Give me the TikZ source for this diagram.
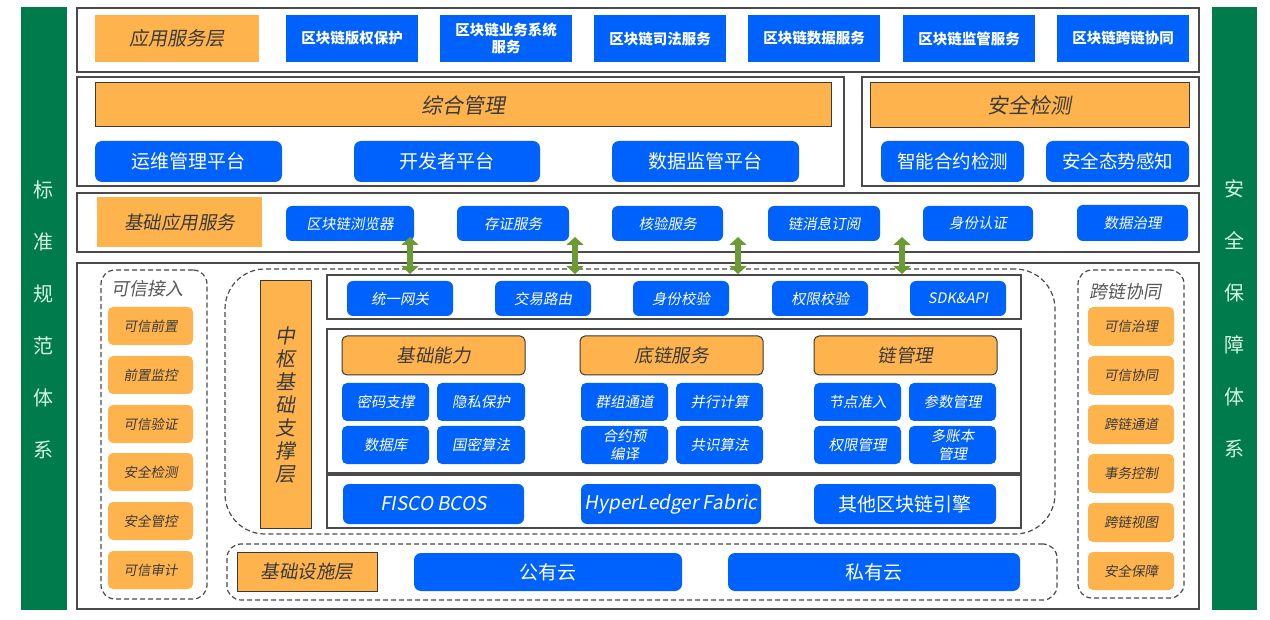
\documentclass[tikz,border=0pt]{standalone}
\usepackage{fontspec}
\setmainfont{Noto Sans CJK SC}
\newfontfamily\slf{Noto Sans CJK SC}[FakeSlant=0.18]
\usetikzlibrary{arrows.meta}
\definecolor{gbar}{HTML}{007B4C}
\definecolor{bl}{HTML}{0062FC}
\definecolor{og}{HTML}{FFB34D}
\definecolor{frm}{HTML}{4A4A4A}
\definecolor{tx}{HTML}{3A3A3A}
\definecolor{arr}{HTML}{6C9A34}
\definecolor{mint}{HTML}{D6F2E4}
\newcommand\fs[2]{\fontsize{#1}{#2}\selectfont}
\newcommand\bx[7]{\node[#6,minimum width={#4pt-#2pt},minimum height={#5pt-#3pt}] (#1) at ({(#2+#4)/2},{(#3+#5)/2}) {#7};}
\tikzset{
  box/.style={inner sep=0pt,outer sep=0pt,align=center},
  frame/.style={box,draw=frm,line width=1.4pt},
  dbox/.style={box,draw=frm,line width=1.2pt,dash pattern=on 5pt off 3pt,rounded corners=14pt},
  oflat/.style={box,fill=og,text=tx,font=\slf\fs{19}{22}},
  ohead/.style={box,fill=og,draw=tx,line width=1pt,text=tx,font=\slf\fs{21}{24}},
  oround/.style={box,fill=og,draw=tx,line width=1pt,rounded corners=5pt,text=tx,font=\slf\fs{18.5}{22}},
  osmall/.style={box,fill=og,rounded corners=5pt,text=tx,font=\slf\fs{13.5}{16}},
  btop/.style={box,fill=bl,text=white,font=\bfseries\fs{14.5}{17}},
  bplat/.style={box,fill=bl,rounded corners=7pt,text=white,font=\fs{19}{22}},
  bsvc/.style={box,fill=bl,rounded corners=6pt,text=white,font=\slf\fs{14.5}{17}},
  bsm/.style={box,fill=bl,rounded corners=5pt,text=white,font=\slf\fs{14.5}{18}},
  beng/.style={box,fill=bl,rounded corners=6pt,text=white,font=\slf\fs{19}{22}},
  gbarst/.style={box,fill=gbar},
  vtext/.style={align=center,text=mint,font=\fs{20}{52}},
  ttl/.style={text=tx!85,font=\slf\fs{18}{21}},
  dbl/.style={draw=arr,line width=6pt,{Triangle[width=17pt,length=8pt]}-{Triangle[width=17pt,length=8pt]}}
}
\begin{document}
\begin{tikzpicture}[x=1pt,y=-1pt]
\useasboundingbox[fill=white] (0,0) rectangle (1270,620);
% green side bars
\bx{gl}{21}{7}{67}{610}{gbarst}{}
\bx{gr}{1212}{7}{1257}{610}{gbarst}{}
\node[vtext] (glt) at (44,320) {标\\准\\规\\范\\体\\系};
\node[vtext] (grt) at (1234,319) {安\\全\\保\\障\\体\\系};
% layer 1
\bx{L1}{77}{8}{1199}{72}{frame}{}
\bx{app}{95}{15}{259}{62}{oflat}{应用服务层}
\bx{t1}{286}{15}{418}{62}{btop}{区块链版权保护}
\bx{t2}{440}{15}{572}{62}{btop}{区块链业务系统\\服务}
\bx{t3}{594}{15}{726}{62}{btop}{区块链司法服务}
\bx{t4}{748}{15}{880}{62}{btop}{区块链数据服务}
\bx{t5}{903}{15}{1035}{62}{btop}{区块链监管服务}
\bx{t6}{1057}{15}{1189}{62}{btop}{区块链跨链协同}
% layer 2
\bx{L2a}{77}{77}{844}{186}{frame}{}
\bx{L2b}{862}{77}{1199}{186}{frame}{}
\bx{zh}{95}{83}{831}{127}{ohead}{综合管理}
\bx{aq}{870}{83}{1189}{128}{ohead}{安全检测}
\bx{p1}{95}{141}{282}{182}{bplat}{运维管理平台}
\bx{p2}{354}{141}{540}{182}{bplat}{开发者平台}
\bx{p3}{612}{141}{799}{182}{bplat}{数据监管平台}
\bx{p4}{881}{141}{1024}{182}{bplat,font=\fs{18.5}{22}}{智能合约检测}
\bx{p5}{1046}{141}{1189}{182}{bplat,font=\fs{18.5}{22}}{安全态势感知}
% layer 3
\bx{L3}{77}{193}{1199}{252}{frame}{}
\bx{jc}{97}{197}{262}{247}{oflat,font=\slf\fs{18.5}{22}}{基础应用服务}
\bx{s1}{286}{206}{414}{241}{bsvc}{区块链浏览器}
\bx{s2}{457}{206}{569}{241}{bsvc}{存证服务}
\bx{s3}{612}{206}{723}{241}{bsvc}{核验服务}
\bx{s4}{768}{206}{880}{241}{bsvc}{链消息订阅}
\bx{s5}{923}{206}{1033}{241}{bsvc}{身份认证}
\bx{s6}{1077}{205}{1188}{241}{bsvc}{数据治理}
% main frame
\bx{L4}{77}{263}{1199}{609}{frame}{}
% left: trusted access
\bx{kx}{101}{270}{207}{599}{dbox}{}
\node[ttl] (kxt) at (147,289) {可信接入};
\bx{k1}{108}{307}{193}{345}{osmall}{可信前置}
\bx{k2}{108}{356}{193}{394}{osmall}{前置监控}
\bx{k3}{108}{405}{193}{443}{osmall}{可信验证}
\bx{k4}{108}{453}{193}{491}{osmall}{安全检测}
\bx{k5}{108}{502}{193}{540}{osmall}{安全管控}
\bx{k6}{108}{551}{193}{589}{osmall}{可信审计}
% centre
\bx{zs}{225}{269}{1055}{534}{dbox,rounded corners=40pt}{}
\bx{zsl}{260}{281}{311}{528}{ohead,font=\slf\fs{20}{23}}{中\\枢\\基\\础\\支\\撑\\层}
\bx{gw}{327}{275}{1021}{319}{frame}{}
\bx{g1}{347}{281}{453}{316}{bsvc}{统一网关}
\bx{g2}{495}{281}{591}{316}{bsvc}{交易路由}
\bx{g3}{633}{281}{729}{316}{bsvc}{身份校验}
\bx{g4}{772}{281}{868}{316}{bsvc}{权限校验}
\bx{g5}{910}{281}{1006}{316}{bsvc}{SDK\&API}
\bx{mid}{327}{329}{1021}{473}{frame}{}
\bx{h1}{342}{336}{525}{375}{oround}{基础能力}
\bx{h2}{580}{336}{763}{375}{oround}{底链服务}
\bx{h3}{814}{336}{997}{375}{oround}{链管理}
\bx{c1}{342}{383}{429}{421}{bsm}{密码支撑}
\bx{c2}{437}{383}{525}{421}{bsm}{隐私保护}
\bx{c3}{342}{426}{429}{464}{bsm}{数据库}
\bx{c4}{437}{426}{525}{464}{bsm}{国密算法}
\bx{c5}{581}{383}{668}{421}{bsm}{群组通道}
\bx{c6}{676}{383}{763}{421}{bsm}{并行计算}
\bx{c7}{581}{426}{668}{464}{bsm}{合约预\\编译}
\bx{c8}{676}{426}{763}{464}{bsm}{共识算法}
\bx{c9}{814}{383}{901}{421}{bsm}{节点准入}
\bx{c10}{909}{383}{996}{421}{bsm}{参数管理}
\bx{c11}{814}{426}{901}{464}{bsm}{权限管理}
\bx{c12}{909}{426}{996}{464}{bsm}{多账本\\管理}
\bx{eng}{327}{475}{1021}{528}{frame}{}
\bx{e1}{343}{484}{524}{524}{beng}{FISCO BCOS}
\bx{e2}{581}{484}{761}{524}{beng}{HyperLedger Fabric}
\bx{e3}{814}{484}{996}{524}{beng,font=\fs{19}{22}}{其他区块链引擎}
% infrastructure
\bx{jcs}{227}{544}{1057}{600}{dbox}{}
\bx{jcsl}{237}{552}{377}{591}{ohead,font=\slf\fs{18.5}{22}}{基础设施层}
\bx{gy}{414}{553}{682}{591}{bplat}{公有云}
\bx{sy}{728}{553}{1020}{591}{bplat}{私有云}
% right: cross-chain
\bx{kl}{1078}{270}{1184}{598}{dbox}{}
\node[ttl] (klt) at (1125,292) {跨链协同};
\bx{r1}{1088}{307}{1174}{346}{osmall}{可信治理}
\bx{r2}{1088}{356}{1174}{395}{osmall}{可信协同}
\bx{r3}{1088}{405}{1174}{444}{osmall}{跨链通道}
\bx{r4}{1088}{454}{1174}{493}{osmall}{事务控制}
\bx{r5}{1088}{503}{1174}{542}{osmall}{跨链视图}
\bx{r6}{1088}{552}{1174}{590}{osmall}{安全保障}
% arrows
\coordinate (a1t) at (410,237); \coordinate (a1b) at (410,274);
\coordinate (a2t) at (575,237); \coordinate (a2b) at (575,274);
\coordinate (a3t) at (738,237); \coordinate (a3b) at (738,274);
\coordinate (a4t) at (902,237); \coordinate (a4b) at (902,274);
\draw[dbl] (a1t) -- (a1b);
\draw[dbl] (a2t) -- (a2b);
\draw[dbl] (a3t) -- (a3b);
\draw[dbl] (a4t) -- (a4b);
\end{tikzpicture}
\end{document}
